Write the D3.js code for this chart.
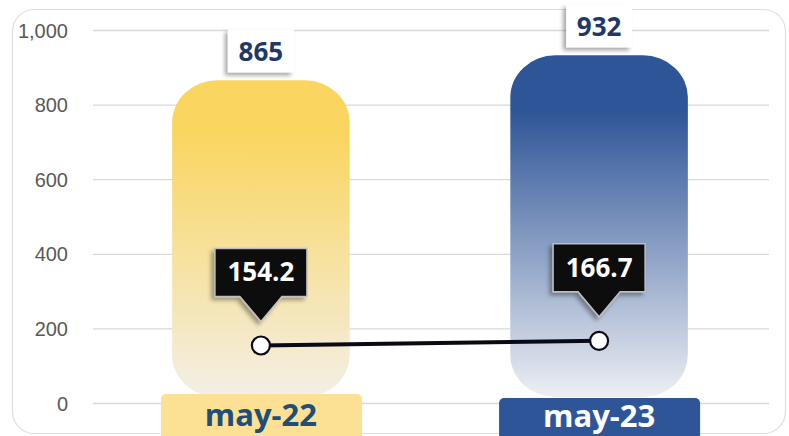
<!DOCTYPE html>
<html>
<head>
<meta charset="utf-8">
<script src="https://cdn.jsdelivr.net/npm/d3@7"></script>
<style>
  body { margin: 0; background: #fff; }
  svg { display: block; font-family: "Open Sans", "Noto Sans", sans-serif; }
</style>
</head>
<body>
<svg width="789" height="436"></svg>
<script>
var width = 789;
var height = 436;

// data
var categories = ["may-22", "may-23"];
var barValues = [865, 932];
var lineValues = [154.2, 166.7];
var yTicks = [0, 200, 400, 600, 800, 1000];

var barColors = ["#FAD55F", "#2E5597"];
var barFade = ["#F3EFE6", "#EDEFF4"];
var labelFill = ["#FCE195", "#2E5597"];
var labelText = ["#1F4E79", "#ffffff"];

var svg = d3.select("svg");
var defs = svg.append("defs");

var shadow = defs.append("filter").attr("id", "shadow")
  .attr("x", "-30%").attr("y", "-30%").attr("width", "160%").attr("height", "160%");
shadow.append("feDropShadow")
  .attr("dx", -3).attr("dy", 3).attr("stdDeviation", 2)
  .attr("flood-color", "#000").attr("flood-opacity", 0.35);

categories.forEach(function(c, i) {
  var g = defs.append("linearGradient").attr("id", "grad" + i)
    .attr("x1", 0).attr("y1", 0).attr("x2", 0).attr("y2", 1);
  g.append("stop").attr("offset", "0%").attr("stop-color", barColors[i]);
  g.append("stop").attr("offset", "16%").attr("stop-color", barColors[i]);
  g.append("stop").attr("offset", "100%").attr("stop-color", barFade[i]);
});

// chart frame
svg.append("rect")
  .attr("x", 12.5).attr("y", 9.5)
  .attr("width", 773).attr("height", 424)
  .attr("rx", 22)
  .attr("fill", "#fff")
  .attr("stroke", "#DEDEDE")
  .attr("stroke-width", 1.2);

var x = d3.scaleBand()
  .domain(categories)
  .range([93, 767])
  .paddingInner(0.475)
  .paddingOuter(0.234);

var y = d3.scaleLinear()
  .domain([0, 1000])
  .range([403, 30]);

// gridlines + y axis labels
var axisLeft = d3.axisLeft(y)
  .tickValues(yTicks)
  .tickFormat(d3.format(","))
  .tickSize(-(769 - 93))
  .tickPadding(25);

var axisG = svg.append("g")
  .attr("transform", "translate(93,0)")
  .call(axisLeft);
axisG.select(".domain").remove();
axisG.selectAll(".tick line").attr("stroke", "#D9D9D9").attr("stroke-width", 1.3);
axisG.selectAll(".tick text")
  .attr("fill", "#595959")
  .style("font-size", "20px")
  .attr("dy", "0.35em");

// bars
svg.selectAll("rect.bar")
  .data(barValues)
  .enter()
  .append("rect")
  .attr("class", "bar")
  .attr("x", function(d, i) { return x(categories[i]); })
  .attr("y", function(d) { return y(d); })
  .attr("width", x.bandwidth())
  .attr("height", function(d) { return y(0) - 6 - y(d); })
  .attr("rx", 45).attr("ry", 42)
  .attr("fill", function(d, i) { return "url(#grad" + i + ")"; });

// value boxes above bars
var valG = svg.selectAll("g.val")
  .data(barValues)
  .enter()
  .append("g")
  .attr("class", "val")
  .attr("transform", function(d, i) {
    return "translate(" + (x(categories[i]) + x.bandwidth() / 2) + "," + (y(d) - 8) + ")";
  });
valG.append("rect")
  .attr("x", -33).attr("y", -43)
  .attr("width", 66).attr("height", 43)
  .attr("fill", "#fff")
  .attr("filter", "url(#shadow)");
valG.append("text")
  .attr("text-anchor", "middle")
  .attr("y", -11)
  .attr("fill", "#1F3864")
  .style("font-size", "26px")
  .style("font-weight", "bold")
  .text(function(d) { return d; });

// category label boxes
var catG = svg.selectAll("g.cat")
  .data(categories)
  .enter()
  .append("g")
  .attr("class", "cat")
  .attr("transform", function(d) { return "translate(" + (x(d) + x.bandwidth() / 2) + ",0)"; });
catG.append("rect")
  .attr("x", -100).attr("y", function(d, i) { return i == 0 ? 394 : 398; })
  .attr("width", 201).attr("height", 50)
  .attr("rx", 5)
  .attr("fill", function(d, i) { return labelFill[i]; });
catG.append("text")
  .attr("text-anchor", "middle")
  .attr("y", function(d, i) { return i == 0 ? 426 : 427; })
  .attr("fill", function(d, i) { return labelText[i]; })
  .style("font-size", "31px")
  .style("font-weight", "bold")
  .text(function(d) { return d; });

// line series
function cx(d, i) { return x(categories[i]) + x.bandwidth() / 2; }

var line = d3.line()
  .x(function(d, i) { return cx(d, i); })
  .y(function(d) { return y(d); });

svg.append("path")
  .datum(lineValues)
  .attr("d", line)
  .attr("fill", "none")
  .attr("stroke", "#0A0A14")
  .attr("stroke-width", 4);

svg.selectAll("circle.pt")
  .data(lineValues)
  .enter()
  .append("circle")
  .attr("class", "pt")
  .attr("cx", cx)
  .attr("cy", function(d) { return y(d); })
  .attr("r", 9)
  .attr("fill", "#fff")
  .attr("stroke", "#0A0A14")
  .attr("stroke-width", 2.2);

// callouts for the line values
var callG = svg.selectAll("g.call")
  .data(lineValues)
  .enter()
  .append("g")
  .attr("class", "call")
  .attr("transform", function(d, i) { return "translate(" + cx(d, i) + "," + (y(d) - 24) + ")"; });
callG.append("path")
  .attr("d", "M0,0 L-21,-25 L-46,-25 L-46,-73 L46,-73 L46,-25 L21,-25 Z")
  .attr("fill", "#0B0810")
  .attr("stroke", "#BFBFBF")
  .attr("stroke-width", 1.5)
  .attr("filter", "url(#shadow)");
callG.append("text")
  .attr("text-anchor", "middle")
  .attr("y", -40)
  .attr("fill", "#fff")
  .style("font-size", "26px")
  .style("font-weight", "bold")
  .text(function(d) { return d; });
</script>
</body>
</html>
